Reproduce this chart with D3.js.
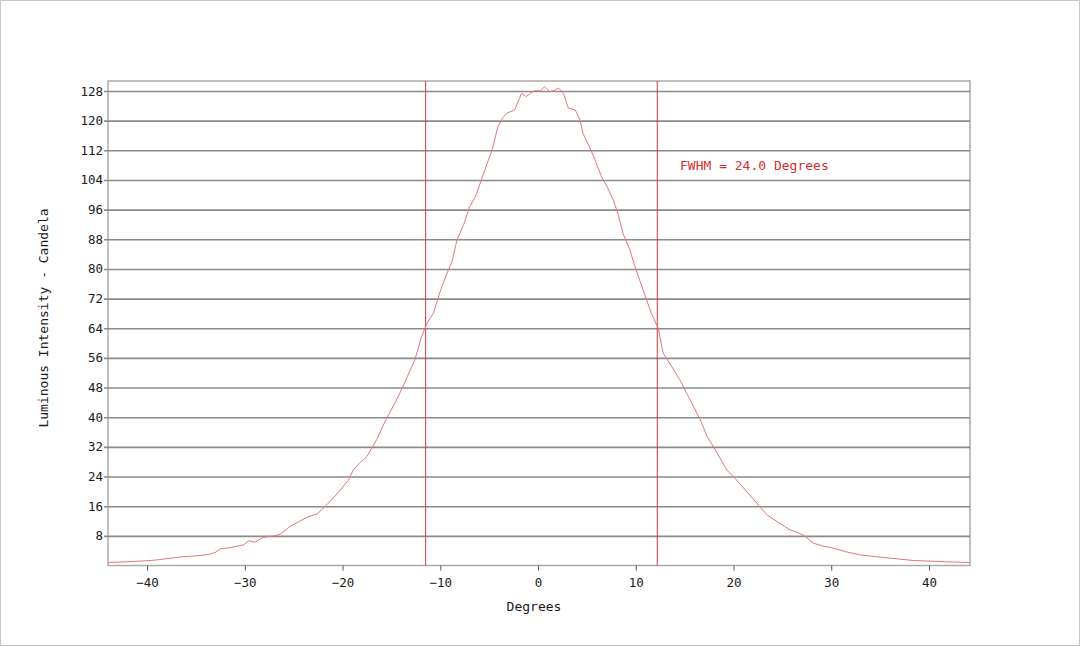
<!DOCTYPE html>
<html>
<head>
<meta charset="utf-8">
<script src="https://cdn.jsdelivr.net/npm/d3@7"></script>
<style>
  html, body { margin: 0; padding: 0; background: #fff; }
  svg text { font-family: "DejaVu Sans Mono", "Liberation Mono", monospace; }
</style>
</head>
<body>
<div id="chart"></div>
<script>
// degrees
const degrees = [-44, -42, -40, -39, -37.5, -36.6, -35, -33.6, -33.0, -32.5, -31.5, -30.1, -29.6, -29.0,
    -28.1, -27.0, -26.4, -25.4, -24.5, -23.5, -22.6, -21.6, -20.5, -19.4, -18.9, -18.2, -17.5, -16.5,
    -15.5, -14.7, -13.9, -13.2, -12.6, -12.0, -11.4, -10.7, -10.0, -9.3, -8.8, -8.3, -7.6, -7.0, -6.4,
    -5.8, -5.2, -4.7, -4.1, -3.6, -3.2, -2.4, -1.9, -1.7, -1.2, -0.7, -0.3, 0.2, 0.7, 1.2, 1.7, 2.1,
    2.6, 3.1, 3.8, 4.3, 4.6, 5.2, 5.7, 6.5, 7.1, 7.7, 8.2, 8.7, 9.4, 10.0, 10.4, 11.1, 11.6, 12.3,
    12.8, 13.6, 14.5, 15.5, 16.6, 17.3, 18.3, 19.3, 20.3, 21.4, 22.4, 23.4, 24.6, 25.8, 27.1, 28.2,
    29.2, 30.2, 31.5, 32.9, 34.5, 36.0, 38.4, 40.0, 41.8, 44.2]
// candela
const intensity = [0.8, 1.0, 1.3, 1.5, 2.0, 2.3, 2.6, 3.0, 3.6, 4.5, 4.8, 5.6, 6.7, 6.3,
    7.6, 8.0, 8.4, 10.5, 11.8, 13.2, 13.9, 16.4, 19.5, 23.0, 25.8, 27.8, 29.4, 34.0,
    39.7, 43.5, 47.8, 52.0, 55.5, 61.0, 65.2, 68.1, 74.0, 78.9, 82.0, 87.8, 92.0, 96.8, 99.5,
    104.0, 108.5, 112.1, 118.4, 120.8, 122.0, 122.9, 126.0, 127.4, 126.5, 127.6, 128.1, 128.0, 129.2, 127.8, 128.2, 128.8,
    127.4, 123.4, 122.9, 120.2, 116.6, 113.2, 110.3, 104.9, 102.0, 98.6, 94.8, 89.6, 85.1, 80.0, 77.0, 71.7, 68.0, 64.0,
    57.3, 54.0, 50.1, 45.0, 39.3, 34.8, 30.5, 25.8, 23.1, 19.8, 16.8, 13.7, 11.6, 9.6, 8.3, 6.0,
    5.2, 4.7, 3.7, 2.9, 2.4, 2.0, 1.35, 1.2, 1.0, 0.8]

const y_ticks = [8, 16, 24, 32, 40, 48, 56, 64, 72, 80, 88, 96, 104, 112, 120, 128]
const x_ticks = [-40, -30, -20, -10, 0, 10, 20, 30, 40]
const fwhm_lines = [-11.5, 12.2]
const fwhm_label = "FWHM = 24.0 Degrees"

const W = 1080, H = 646
const plot_left = 108, plot_right = 970, plot_top = 81, plot_bottom = 565.5
const font_size = 12.5

let svg = d3.select("#chart").append("svg")
    .attr("width", W)
    .attr("height", H)

// thin frame round the picture
svg.append("rect")
    .attr("x", 0.5).attr("y", 0.5)
    .attr("width", W - 1).attr("height", H - 1)
    .attr("fill", "#fff")
    .attr("stroke", "#c8c8c8")

const x = d3.scaleLinear().domain([-44, 44.2]).range([plot_left, plot_right])
const y = d3.scaleLinear().domain([0, 130.7]).range([plot_bottom, plot_top])

// plot frame
svg.append("rect")
    .attr("x", plot_left).attr("y", plot_top)
    .attr("width", plot_right - plot_left).attr("height", plot_bottom - plot_top)
    .attr("fill", "none")
    .attr("stroke", "#aaa")
    .attr("stroke-width", 1.5)

// horizontal grid + left ticks
let yAxis = svg.append("g")
    .attr("transform", "translate(" + plot_left + ",0)")
    .call(d3.axisLeft(y)
        .tickValues(y_ticks)
        .tickSizeInner(4)
        .tickSizeOuter(0)
        .tickPadding(4)
    )
yAxis.select(".domain").remove()
yAxis.selectAll(".tick line")
    .attr("x2", plot_right - plot_left)
    .attr("x1", -4)
    .attr("stroke", "#8a8a8a")
    .attr("stroke-width", 1.6)
yAxis.selectAll(".tick text")
    .attr("x", -5)
    .attr("font-size", font_size)
    .attr("fill", "#1a1a1a")
    .attr("font-family", "DejaVu Sans Mono")

// bottom ticks
let xAxis = svg.append("g")
    .attr("transform", "translate(0," + plot_bottom + ")")
    .call(d3.axisBottom(x)
        .tickValues(x_ticks)
        .tickSizeInner(5)
        .tickSizeOuter(0)
        .tickPadding(8)
    )
xAxis.select(".domain").remove()
xAxis.selectAll(".tick line").attr("stroke", "#555")
xAxis.selectAll(".tick text")
    .attr("font-size", font_size)
    .attr("fill", "#1a1a1a")
    .attr("font-family", "DejaVu Sans Mono")

// FWHM markers
svg.selectAll(".fwhm")
    .data(fwhm_lines)
    .enter()
    .append("line")
    .attr("class", "fwhm")
    .attr("x1", d => x(d)).attr("x2", d => x(d))
    .attr("y1", plot_top).attr("y2", plot_bottom)
    .attr("stroke", "#d03838")
    .attr("stroke-width", 1)

// the measured curve
svg.append("path")
    .datum(d3.zip(degrees, intensity))
    .attr("fill", "none")
    .attr("stroke", "#e07878")
    .attr("stroke-width", 1)
    .attr("d", d3.line()
        .x(d => x(d[0]))
        .y(d => y(d[1]))
    )

svg.append("text")
    .attr("x", 680)
    .attr("y", 170)
    .attr("font-size", 13)
    .attr("fill", "#d03030")
    .text(fwhm_label)

svg.append("text")
    .attr("x", 534)
    .attr("y", 611)
    .attr("text-anchor", "middle")
    .attr("font-size", 13)
    .attr("fill", "#1a1a1a")
    .text("Degrees")

svg.append("text")
    .attr("transform", "translate(48,318) rotate(-90)")
    .attr("text-anchor", "middle")
    .attr("font-size", 13)
    .attr("fill", "#1a1a1a")
    .text("Luminous Intensity - Candela")
</script>
</body>
</html>
